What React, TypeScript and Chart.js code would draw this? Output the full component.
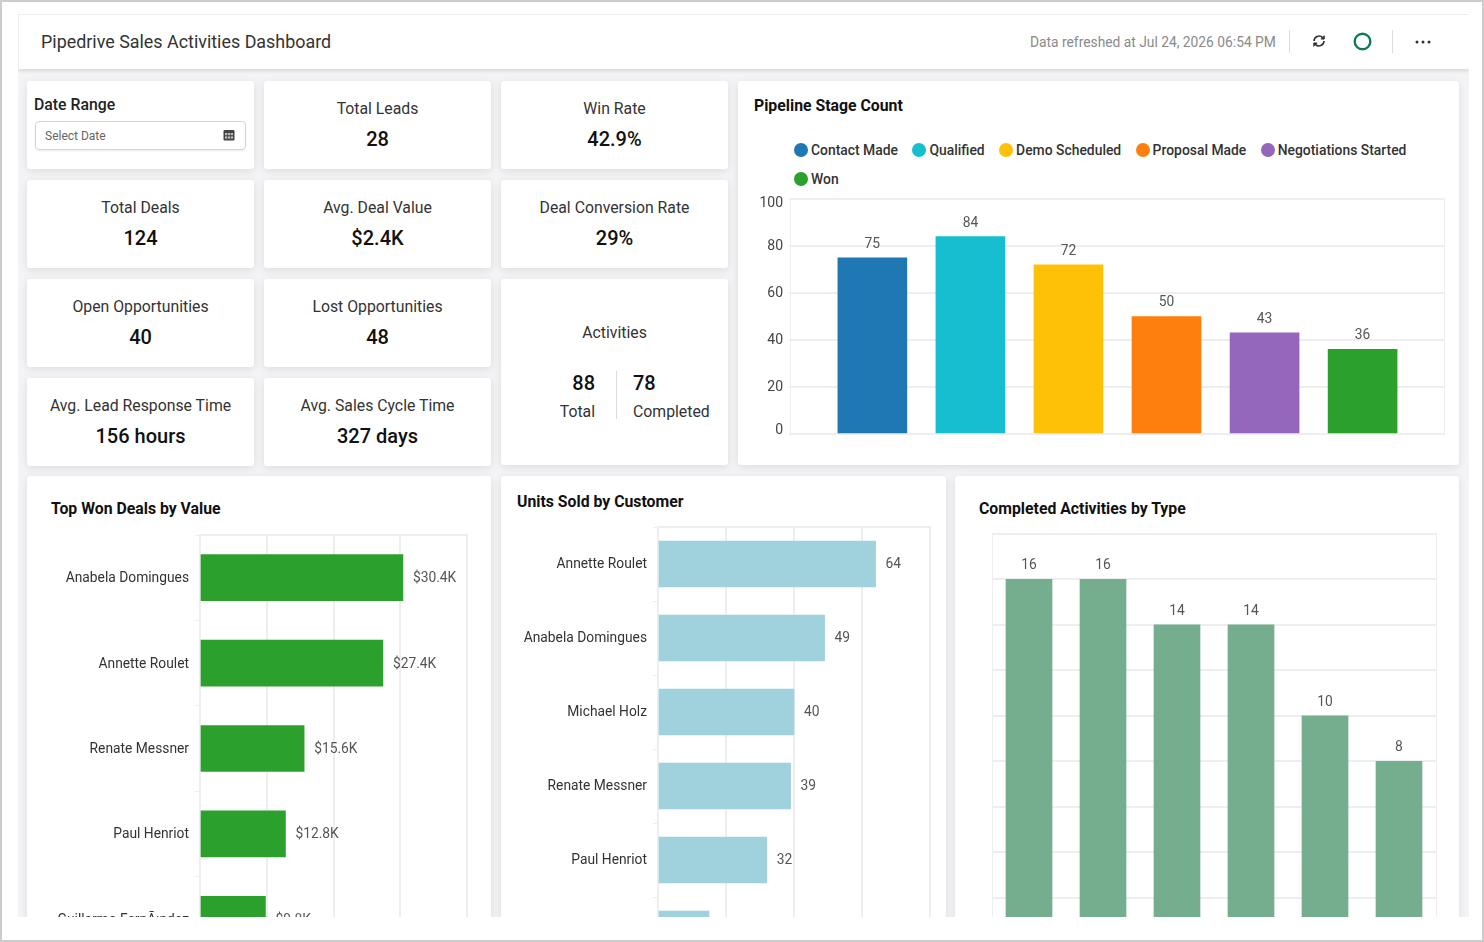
import { useEffect, useRef } from "react";
import Chart from "chart.js/auto";

const stageLabels = ["Contact Made", "Qualified", "Demo Scheduled", "Proposal Made", "Negotiations Started", "Won"];
const stageCounts = [75, 84, 72, 50, 43, 36];
const stageColors = ["#1f77b4", "#17becf", "#ffc107", "#ff7f0e", "#9467bd", "#2ca02c"];
const stageTicks = [0, 20, 40, 60, 80, 100];

const dealCustomers = ["Anabela Domingues", "Annette Roulet", "Renate Messner", "Paul Henriot", "Guillermo FernÃ¡ndez"];
const dealValues = [30.4, 27.4, 15.6, 12.8, 9.8];

const unitCustomers = ["Annette Roulet", "Anabela Domingues", "Michael Holz", "Renate Messner", "Paul Henriot", ""];
const unitValues = [64, 49, 40, 39, 32, 15];

const activityValues = [16, 16, 14, 14, 10, 8];

const GRID = "#eeeef1";
const FONT = "Roboto";

// value printed at the end of each bar
const barValues = (format: (v: number) => string) => ({
  id: "barValues",
  afterDatasetsDraw(chart: any) {
    const { ctx } = chart;
    const horizontal = chart.options.indexAxis === "y";
    const values = chart.data.datasets[0].data;
    ctx.save();
    ctx.font = `13.8px ${FONT}`;
    ctx.fillStyle = "#555";
    ctx.textBaseline = "middle";
    ctx.textAlign = horizontal ? "left" : "center";
    chart.getDatasetMeta(0).data.forEach((bar: any, i: number) => {
      const v = values[i];
      const text = format(typeof v === "number" ? v : v.y);
      if (horizontal) ctx.fillText(text, bar.x + 10, bar.y + 1);
      else ctx.fillText(text, bar.x, bar.y - 13.5);
    });
    ctx.restore();
  },
});

// the first and last y labels sit inside the plot in the original
const insetEdgeTicks = {
  id: "insetEdgeTicks",
  beforeDraw(chart: any) {
    const items = chart.scales.y.getLabelItems();
    items[0].options.translation[1] -= 4;
    items[items.length - 1].options.translation[1] += 4;
  },
};

// category names sit a pixel lower than Chart.js centres them
const lowerCategoryTicks = {
  id: "lowerCategoryTicks",
  beforeDraw(chart: any) {
    chart.scales.y.getLabelItems().forEach((item: any) => {
      item.options.translation[1] += 1;
    });
  },
};

const zeroHeight = (scale: any) => {
  scale.height = 0;
};

// fixed axis width, and no room kept for the labels' overhang
const fixedWidth = (width: number) => (scale: any) => {
  scale.width = width;
  scale.paddingTop = 0;
  scale.paddingBottom = 0;
};

const hBarConfig = (labels: string[], values: number[], color: string, max: number, step: number, axisWidth: number, right: number, thickness: number, format: (v: number) => string) => ({
  type: "bar",
  data: { labels, datasets: [{ data: values, backgroundColor: color, barThickness: thickness }] },
  options: {
    indexAxis: "y",
    animation: false,
    responsive: false,
    layout: { padding: { top: 8, right, bottom: 9, left: 0 } },
    plugins: { legend: { display: false }, tooltip: { enabled: false } },
    scales: {
      x: {
        position: "top",
        min: 0,
        max,
        ticks: { display: false, stepSize: step },
        grid: { color: GRID, lineWidth: 2, drawTicks: false },
        border: { color: GRID, width: 2 },
        afterFit: zeroHeight,
      },
      y: {
        ticks: { color: "#333", font: { family: FONT, size: 13.8 }, padding: 6, autoSkip: false },
        grid: { color: GRID, drawOnChartArea: false, tickLength: 5 },
        border: { color: GRID, width: 2 },
        afterFit: fixedWidth(axisWidth),
      },
    },
  },
  plugins: [barValues(format), lowerCategoryTicks],
});

const pipelineConfig = {
  type: "bar",
  data: {
    datasets: [
      {
        data: stageCounts.map((y, x) => ({ x, y })),
        backgroundColor: stageColors,
        barThickness: 69,
      },
    ],
  },
  options: {
    animation: false,
    responsive: false,
    layout: { padding: { top: 8, right: 6, bottom: 7, left: 0 } },
    plugins: { legend: { display: false }, tooltip: { enabled: false } },
    scales: {
      x: {
        type: "linear",
        min: -0.84,
        max: 5.83,
        offset: false,
        ticks: { display: false },
        grid: { color: GRID, drawTicks: false, offset: false },
        border: { color: GRID },
        afterBuildTicks: (scale: any) => {
          scale.ticks = [{ value: -0.84 }, { value: 5.83 }];
        },
        afterFit: zeroHeight,
      },
      y: {
        min: 0,
        max: 100,
        afterBuildTicks: (scale: any) => {
          scale.ticks = stageTicks.map((value) => ({ value }));
        },
        ticks: { color: "#444", font: { family: FONT, size: 14 }, padding: 6 },
        grid: { color: GRID, lineWidth: 2, tickLength: 1 },
        border: { color: GRID },
        afterFit: fixedWidth(40),
      },
    },
  },
  plugins: [barValues(String), insetEdgeTicks],
};

const activityConfig = {
  type: "bar",
  data: {
    datasets: [
      {
        data: activityValues.map((y, x) => ({ x, y })),
        backgroundColor: "#74ae8f",
        barThickness: 46,
      },
    ],
  },
  options: {
    animation: false,
    responsive: false,
    layout: { padding: { top: 8, right: 16, bottom: 7, left: 0 } },
    plugins: { legend: { display: false }, tooltip: { enabled: false } },
    scales: {
      x: {
        type: "linear",
        position: "top",
        min: -0.5,
        max: 5.5,
        offset: false,
        ticks: { display: false },
        grid: { color: GRID, drawTicks: false, offset: false },
        border: { color: GRID, width: 2 },
        afterBuildTicks: (scale: any) => {
          scale.ticks = [{ value: -0.5 }, { value: 5.5 }];
        },
        afterFit: zeroHeight,
      },
      y: {
        min: 0,
        max: 18,
        ticks: { display: false, stepSize: 2 },
        grid: { color: GRID, lineWidth: 2, drawTicks: false },
        border: { color: GRID },
        afterFit: fixedWidth(0),
      },
    },
  },
  plugins: [barValues(String)],
};

const ChartCanvas = ({ config, left, top, width, height }: any) => {
  const ref = useRef<HTMLCanvasElement>(null);

  useEffect(() => {
    const chart = new Chart(ref.current!, config);
    return () => chart.destroy();
  }, [config]);

  return <canvas ref={ref} width={width} height={height} style={{ position: "absolute", left, top, width, height }} />;
};

const Card = ({ left, top, width, height, children }: any) => (
  <div
    style={{
      position: "absolute",
      left,
      top,
      width,
      height,
      background: "#fff",
      borderRadius: 3,
      boxShadow: "0 2px 8px rgba(0,0,0,0.1)",
      overflow: "hidden",
    }}
  >
    {children}
  </div>
);

const Text = ({ left, top, size = 15.8, weight = 400, color = "#333", children, align, width }: any) => (
  <div
    style={{
      position: "absolute",
      left,
      top: top - 12,
      width,
      height: 24,
      lineHeight: "24px",
      fontSize: size,
      fontWeight: weight,
      color,
      textAlign: align,
      whiteSpace: "nowrap",
    }}
  >
    {children}
  </div>
);

const Kpi = ({ left, top, label, value }: any) => (
  <Card left={left} top={top} width={227} height={88}>
    <Text left={0} top={28} width={227} align="center">
      {label}
    </Text>
    <Text left={0} top={58} width={227} align="center" size={20} weight={500} color="#111">
      {value}
    </Text>
  </Card>
);

const Title = ({ left, top, children }: any) => (
  <Text left={left} top={top} weight={700} color="#111">
    {children}
  </Text>
);

const hBarDeals = hBarConfig(dealCustomers, dealValues, "#2ca02c", 40, 10, 160, 13, 46, (v) => `$${v.toFixed(1)}K`);
const hBarUnits = hBarConfig(unitCustomers, unitValues, "#a0d2de", 80, 20, 148, 10, 46, String);

export default function App() {
  useEffect(() => {
    document.body.style.margin = "0";
  }, []);

  return (
    <div
      style={{
        position: "absolute",
        left: 0,
        top: 0,
        width: 1484,
        height: 942,
        boxSizing: "border-box",
        border: "2px solid #ccc",
        background: "#fff",
        overflow: "hidden",
        fontFamily: FONT,
      }}
    >
      <div style={{ position: "absolute", left: -2, top: -2, width: 1484, height: 942 }}>
        <div
          style={{
            position: "absolute",
            left: 18,
            top: 14,
            width: 1451,
            height: 903,
            background: "#f4f4f6",
            overflow: "hidden",
          }}
        >
          <div style={{ position: "absolute", left: -18, top: -14, width: 1484, height: 942 }}>
            <div
              style={{
                position: "absolute",
                left: 18,
                top: 14,
                width: 1451,
                height: 55,
                background: "#fff",
                boxShadow: "0 2px 4px rgba(0,0,0,0.12), inset 0 1px 0 #eee, inset 1px 0 0 #eee",
                zIndex: 2,
              }}
            />
            <div style={{ position: "absolute", left: 0, top: 0, zIndex: 3 }}>
              <Text left={41} top={42} size={17.9} weight={400} color="#333">
                Pipedrive Sales Activities Dashboard
              </Text>
              <Text left={1030} top={42} size={13.8} color="#8a8a8a">
                Data refreshed at Jul 24, 2026 06:54 PM
              </Text>
              <div style={{ position: "absolute", left: 1289, top: 30, width: 1, height: 23, background: "#ddd" }} />
              <div style={{ position: "absolute", left: 1392, top: 30, width: 1, height: 23, background: "#ddd" }} />
              <svg style={{ position: "absolute", left: 1311, top: 33 }} width={16} height={16} viewBox="0 0 16 16" fill="none" stroke="#333" strokeWidth={1.6}>
                <path d="M3 8a5 5 0 0 1 8.6-3.4L13 6" />
                <path d="M13 8a5 5 0 0 1-8.6 3.4L3 10" />
                <path d="M13.2 2.5V6H9.8" fill="#333" strokeWidth={1} />
                <path d="M2.8 13.5V10h3.4" fill="#333" strokeWidth={1} />
              </svg>
              <svg style={{ position: "absolute", left: 1352, top: 31 }} width={21} height={21}>
                <circle cx={10.5} cy={10.5} r={7.8} fill="none" stroke="#0f7a5a" strokeWidth={2.4} />
              </svg>
              <svg style={{ position: "absolute", left: 1414, top: 38 }} width={18} height={8} fill="#333">
                <circle cx={3} cy={4} r={1.5} />
                <circle cx={9} cy={4} r={1.5} />
                <circle cx={15} cy={4} r={1.5} />
              </svg>
            </div>

            <Card left={27} top={81} width={227} height={88}>
              <Text left={7} top={24} weight={500} color="#222">
                Date Range
              </Text>
              <div
                style={{
                  position: "absolute",
                  left: 8,
                  top: 40,
                  width: 209,
                  height: 27,
                  border: "1px solid #d4d4d4",
                  borderRadius: 4,
                  boxShadow: "0 1px 2px rgba(0,0,0,0.08)",
                }}
              />
              <Text left={18} top={55} size={12} color="#666">
                Select Date
              </Text>
              <svg style={{ position: "absolute", left: 196, top: 48 }} width={12} height={12}>
                <rect x={0.5} y={1} width={11} height={10.5} rx={1} fill="#444" />
                <rect x={2} y={4} width={2.2} height={2.2} fill="#bbb" />
                <rect x={4.9} y={4} width={2.2} height={2.2} fill="#bbb" />
                <rect x={7.8} y={4} width={2.2} height={2.2} fill="#bbb" />
                <rect x={2} y={7.4} width={2.2} height={2.2} fill="#bbb" />
                <rect x={4.9} y={7.4} width={2.2} height={2.2} fill="#bbb" />
                <rect x={7.8} y={7.4} width={2.2} height={2.2} fill="#bbb" />
              </svg>
            </Card>
            <Kpi left={264} top={81} label="Total Leads" value="28" />
            <Kpi left={501} top={81} label="Win Rate" value="42.9%" />
            <Kpi left={27} top={180} label="Total Deals" value="124" />
            <Kpi left={264} top={180} label="Avg. Deal Value" value="$2.4K" />
            <Kpi left={501} top={180} label="Deal Conversion Rate" value="29%" />
            <Kpi left={27} top={278.5} label="Open Opportunities" value="40" />
            <Kpi left={264} top={278.5} label="Lost Opportunities" value="48" />
            <Kpi left={27} top={377.5} label="Avg. Lead Response Time" value="156 hours" />
            <Kpi left={264} top={377.5} label="Avg. Sales Cycle Time" value="327 days" />

            <Card left={501} top={279} width={227} height={186}>
              <Text left={0} top={54} width={227} align="center">
                Activities
              </Text>
              <Text left={0} top={104} width={94} align="right" size={20} weight={500} color="#111">
                88
              </Text>
              <Text left={0} top={133} width={94} align="right">
                Total
              </Text>
              <div style={{ position: "absolute", left: 115, top: 92, width: 1, height: 48, background: "#ddd" }} />
              <Text left={132} top={104} size={20} weight={500} color="#111">
                78
              </Text>
              <Text left={132} top={133}>
                Completed
              </Text>
            </Card>

            <Card left={738} top={81} width={721} height={384}>
              <Title left={16} top={25}>
                Pipeline Stage Count
              </Title>
              <div style={{ position: "absolute", left: 56, top: 61, width: 660, display: "flex", flexWrap: "wrap", rowGap: 13 }}>
                {stageLabels.map((label, i) => (
                  <div key={label} style={{ display: "flex", alignItems: "center", height: 16, marginRight: 14.4, fontSize: 13.9, fontWeight: 500, color: "#333" }}>
                    <span style={{ width: 14, height: 14, borderRadius: 7, background: stageColors[i], marginRight: 3 }} />
                    {label}
                  </div>
                ))}
              </div>
              <ChartCanvas config={pipelineConfig} left={12} top={110} width={700} height={250} />
            </Card>

            <Card left={27} top={476} width={464} height={460}>
              <Title left={24} top={33}>
                Top Won Deals by Value
              </Title>
              <ChartCanvas config={hBarDeals} left={13} top={51} width={440} height={444} />
            </Card>
            <Card left={501} top={476} width={445} height={460}>
              <Title left={16} top={26}>
                Units Sold by Customer
              </Title>
              <ChartCanvas config={hBarUnits} left={9} top={43} width={430} height={461} />
            </Card>
            <Card left={955} top={476} width={504} height={460}>
              <Title left={24} top={33}>
                Completed Activities by Type
              </Title>
              <ChartCanvas config={activityConfig} left={37} top={50} width={460} height={424} />
            </Card>
          </div>
        </div>
      </div>
    </div>
  );
}
